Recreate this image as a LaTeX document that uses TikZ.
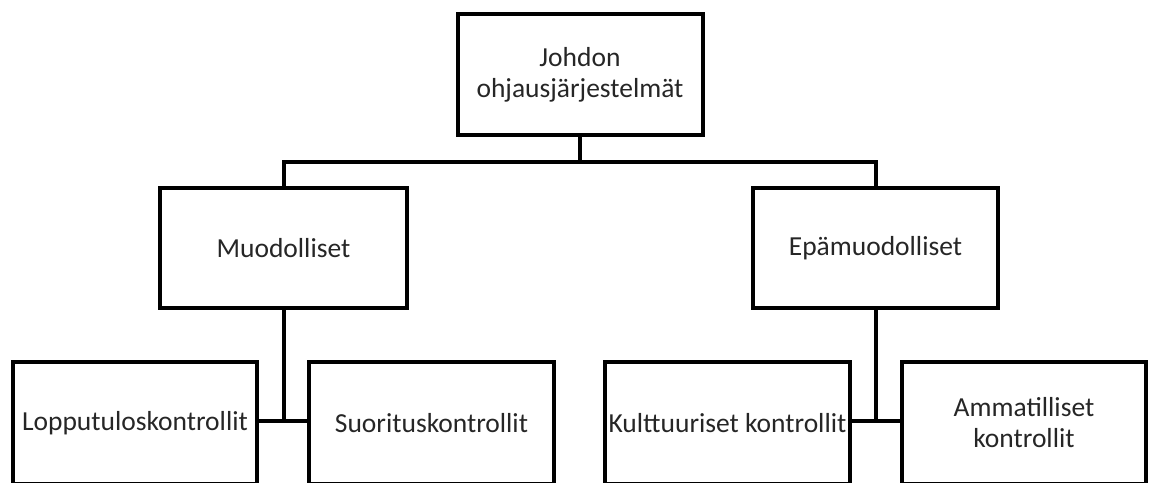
\documentclass[tikz,border=0pt]{standalone}
\usepackage{fontspec}
\setmainfont{Carlito}
\begin{document}
\begin{tikzpicture}[x=1pt,y=-1pt,
  orgbox/.style={draw=black, line width=4pt, rectangle, minimum width=245pt,
    minimum height=121pt, inner sep=1pt, outer sep=0pt, align=center,
    text=black!85, font=\fontsize{27.5}{31}\selectfont},
  lowbox/.style={orgbox, minimum height=122pt},
  link/.style={draw=black, line width=4pt}]
\useasboundingbox (0,0) rectangle (1149,483);
\clip (0,0) rectangle (1149,482);
% boxes
\node[orgbox] (top) at (580,74.5) {Johdon\\ohjausjärjestelmät};
\node[orgbox, minimum width=247pt, minimum height=120pt] (muod) at (283.5,248) {Muodolliset};
\node[orgbox, minimum height=120pt] (epa) at (875.5,248) {Epämuodolliset};
\node[lowbox, minimum width=244pt] (lop) at (135,423) {Lopputuloskontrollit};
\node[lowbox] (suo) at (431.5,423) {Suorituskontrollit};
\node[lowbox] (kul) at (727.5,423) {Kulttuuriset kontrollit};
\node[lowbox, minimum width=244pt] (amm) at (1024,423) {Ammatilliset\\kontrollit};
% connectors
\coordinate (bus) at (580,162);
\coordinate (lowbus) at (580,421);
\draw[link] (top.south) -- (bus);
\draw[link] (muod.north) |- (bus) -| (epa.north);
\draw[link] (lop.east |- lowbus) -- (suo.west |- lowbus);
\draw[link] (kul.east |- lowbus) -- (amm.west |- lowbus);
\draw[link] (muod.south) -- (muod.south |- lowbus);
\draw[link] (epa.south) -- (epa.south |- lowbus);
\end{tikzpicture}
\end{document}
